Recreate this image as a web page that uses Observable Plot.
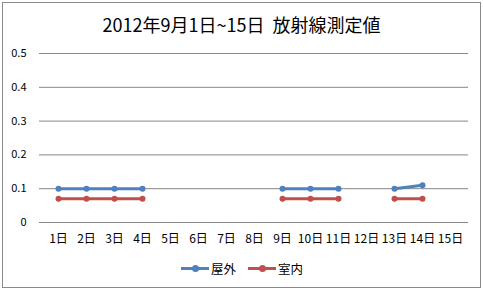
<!DOCTYPE html>
<html><head><meta charset="utf-8">
<script src="https://cdn.jsdelivr.net/npm/d3@7"></script>
<script src="https://cdn.jsdelivr.net/npm/@observablehq/plot@0.6"></script>
<style>
body{margin:0;background:#fff;}
#wrap{position:relative;width:483px;height:291px;font-family:"Noto Sans CJK JP","Noto Sans",sans-serif;overflow:hidden;}
#frame{position:absolute;left:2px;top:2px;width:477px;height:284px;border:1px solid #8a8a8a;}
#title{position:absolute;left:0;width:483px;top:12px;text-align:center;font-size:18px;color:#000;line-height:24px;}
#chart{position:absolute;left:0;top:0;}
#legend{position:absolute;top:259px;left:0;width:483px;height:18px;font-size:12.5px;color:#000;}
.item{position:absolute;top:0;display:flex;align-items:center;height:18px;}
.sw{position:relative;width:28px;height:3px;margin-right:2px;}
.sw i{position:absolute;left:11px;top:-2px;width:7px;height:7px;border-radius:50%;}
</style></head>
<body>
<div id="wrap">
  <div id="frame"></div>
  <div id="title">2012年9月1日~15日&nbsp; 放射線測定値</div>
  <div id="chart"></div>
  <div id="legend"></div>
</div>
<script>
const days = ["1日","2日","3日","4日","5日","6日","7日","8日","9日","10日","11日","12日","13日","14日","15日"];
const outdoor = [0.1,0.1,0.1,0.1,null,null,null,null,0.1,0.1,0.1,null,0.1,0.11,null];
const indoor  = [0.07,0.07,0.07,0.07,null,null,null,null,0.07,0.07,0.07,null,0.07,0.07,null];
const seriesNames = ["屋外","室内"];
const seriesColors = ["#4F81BD","#C0504D"];
const yTicks = [0,0.1,0.2,0.3,0.4,0.5];

const rows = [];
days.forEach((d,i)=>{
  rows.push({day:d, value:outdoor[i], series:seriesNames[0]});
  rows.push({day:d, value:indoor[i], series:seriesNames[1]});
});
const defined = rows.filter(r=>r.value!=null);

const plot = Plot.plot({
  width:483, height:250,
  marginLeft:39, marginRight:15, marginTop:53, marginBottom:28,
  style:{fontFamily:'"Noto Sans CJK JP","Noto Sans",sans-serif', fontSize:"12px", color:"#000", background:"transparent"},
  x:{type:"point", domain:days, padding:0.5, label:null},
  y:{domain:[0,0.5], label:null},
  color:{domain:seriesNames, range:seriesColors},
  marks:[
    Plot.ruleY(yTicks,{stroke:"#868686", strokeWidth:1, strokeOpacity:1}),
    Plot.axisY({ticks:yTicks, tickSize:0, tickPadding:13, label:null, fontSize:11, tickFormat:d=>d===0?"0":String(d)}),
    Plot.axisX({tickSize:0, tickPadding:12, label:null, fontSize:12}),
    Plot.line(rows,{x:"day", y:"value", z:"series", stroke:"series", strokeWidth:3, defined:d=>d.value!=null, curve:"linear"}),
    Plot.dot(defined,{x:"day", y:"value", fill:"series", r:3})
  ]
});
document.getElementById("chart").appendChild(plot);

const legend = document.getElementById("legend");
const lefts = [181,248];
seriesNames.forEach((n,i)=>{
  const it = document.createElement("div");
  it.className="item"; it.style.left=lefts[i]+"px";
  it.innerHTML = `<div class="sw" style="background:${seriesColors[i]}"><i style="background:${seriesColors[i]}"></i></div><span>${n}</span>`;
  legend.appendChild(it);
});
</script>
</body></html>
